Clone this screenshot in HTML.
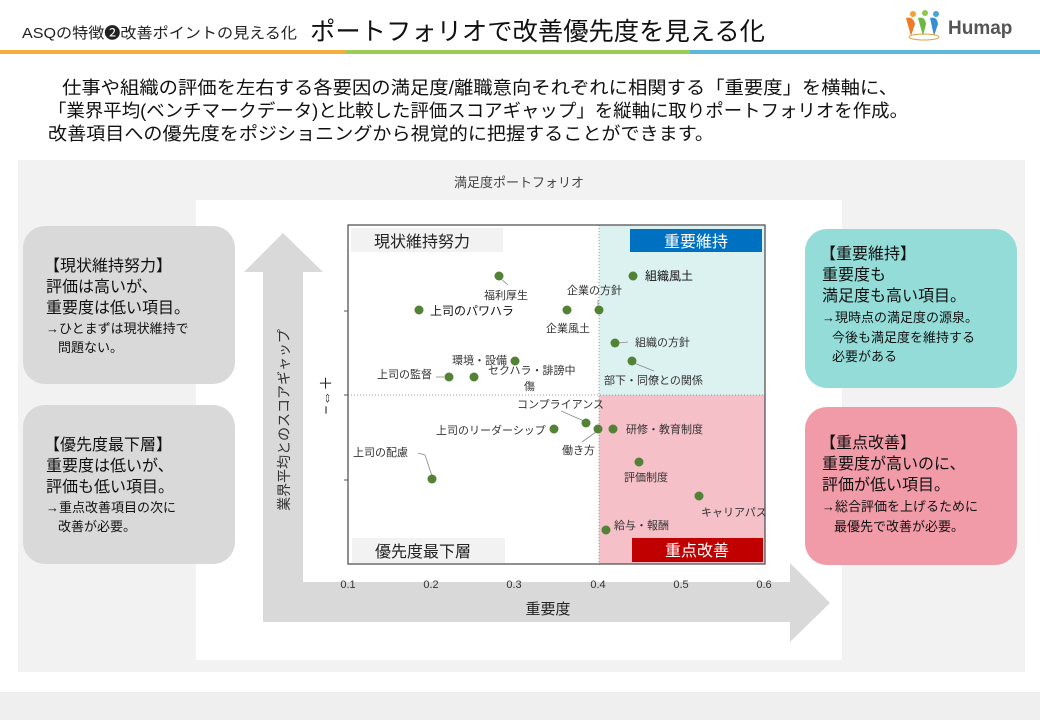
<!DOCTYPE html>
<html><head><meta charset="utf-8"><style>
body{margin:0;width:1040px;height:720px;overflow:hidden;background:#fff;font-family:"Liberation Sans","Noto Sans CJK JP",sans-serif}
svg text{font-family:"Liberation Sans","Noto Sans CJK JP",sans-serif}
</style></head><body>
<svg width="1040" height="720" viewBox="0 0 1040 720" xmlns="http://www.w3.org/2000/svg">
<rect x="0" y="0" width="1040" height="720" fill="#fff"/>
<!-- header -->
<text x="22" y="38" font-size="15" fill="#222" textLength="275" lengthAdjust="spacingAndGlyphs">ASQの特徴❷改善ポイントの見える化</text>
<text x="310" y="40" font-size="25" fill="#111" textLength="455" lengthAdjust="spacingAndGlyphs">ポートフォリオで改善優先度を見える化</text>
<rect x="0" y="50" width="345" height="4" fill="#f5ae3c"/>
<rect x="345" y="50" width="345" height="4" fill="#9ccc55"/>
<rect x="690" y="50" width="350" height="4" fill="#5bb7dc"/>
<g>
<circle cx="913" cy="14" r="3" fill="#f5a030"/><circle cx="925" cy="13" r="3" fill="#8cc84b"/><circle cx="936" cy="14" r="3" fill="#45a5d8"/>
<path d="M906 18 q7 -2 9 6 l-4 12z" fill="#f07a28"/><path d="M918 18 q7 -2 8 6 l-3 12z" fill="#6cb842"/><path d="M930 18 q7 -2 8 6 l-4 12z" fill="#3a8ed0"/>
<ellipse cx="924" cy="37" rx="15" ry="3" fill="none" stroke="#e0a040" stroke-width="1"/>
<text x="948" y="34" font-size="19" font-weight="bold" fill="#555">Humap</text>
</g>
<text x="62" y="94" font-size="18" fill="#111" textLength="836" lengthAdjust="spacingAndGlyphs">仕事や組織の評価を左右する各要因の満足度/離職意向それぞれに相関する「重要度」を横軸に、</text>
<text x="48" y="117" font-size="18" fill="#111" textLength="860" lengthAdjust="spacingAndGlyphs">「業界平均(ベンチマークデータ)と比較した評価スコアギャップ」を縦軸に取りポートフォリオを作成。</text>
<text x="48" y="140" font-size="18" fill="#111" textLength="666" lengthAdjust="spacingAndGlyphs">改善項目への優先度をポジショニングから視覚的に把握することができます。</text>
<!-- panels -->
<rect x="18" y="160" width="1007" height="512" fill="#f2f2f2"/>
<rect x="196" y="200" width="646" height="460" fill="#fff"/>
<rect x="0" y="692" width="1040" height="28" fill="#efefef"/>
<text x="519" y="187" font-size="13" fill="#444" text-anchor="middle">満足度ポートフォリオ</text>
<!-- side boxes -->
<rect x="23" y="226" width="212" height="158" rx="22" fill="#d9d9d9"/>
<text font-size="16" fill="#111"><tspan x="44" y="271">【現状維持努力】</tspan><tspan x="46" y="292">評価は高いが、</tspan><tspan x="46" y="313">重要度は低い項目。</tspan></text>
<text font-size="13" fill="#111"><tspan x="46" y="333">→ひとまずは現状維持で</tspan><tspan x="58" y="352">問題ない。</tspan></text>
<rect x="23" y="405" width="212" height="159" rx="22" fill="#d9d9d9"/>
<text font-size="16" fill="#111"><tspan x="44" y="450">【優先度最下層】</tspan><tspan x="46" y="471">重要度は低いが、</tspan><tspan x="46" y="492">評価も低い項目。</tspan></text>
<text font-size="13" fill="#111"><tspan x="46" y="512">→重点改善項目の次に</tspan><tspan x="58" y="531">改善が必要。</tspan></text>
<rect x="805" y="229" width="212" height="159" rx="22" fill="#94dcd8"/>
<text font-size="16" fill="#111"><tspan x="820" y="259">【重要維持】</tspan><tspan x="822" y="280">重要度も</tspan><tspan x="822" y="301">満足度も高い項目。</tspan></text>
<text font-size="13" fill="#111"><tspan x="822" y="322">→現時点の満足度の源泉。</tspan><tspan x="832" y="342">今後も満足度を維持する</tspan><tspan x="832" y="361">必要がある</tspan></text>
<rect x="805" y="407" width="212" height="158" rx="22" fill="#f19aa8"/>
<text font-size="16" fill="#111"><tspan x="820" y="448">【重点改善】</tspan><tspan x="822" y="469">重要度が高いのに、</tspan><tspan x="822" y="490">評価が低い項目。</tspan></text>
<text font-size="13" fill="#111"><tspan x="822" y="511">→総合評価を上げるために</tspan><tspan x="834" y="531">最優先で改善が必要。</tspan></text>
<!-- arrows -->
<polygon points="283,233 323,272 303,272 303,582 790,582 790,563 830,603 790,642 790,622 263,622 263,272 244,272" fill="#d9d9d9"/>
<text transform="translate(289,420) rotate(-90)" font-size="14" fill="#333" text-anchor="middle">業界平均とのスコアギャップ</text>
<text transform="translate(331,395) rotate(-90)" font-size="15" fill="#222" text-anchor="middle" font-family="'Noto Sans CJK JP',sans-serif">−⇔＋</text>
<text x="548" y="614" font-size="15" fill="#222" text-anchor="middle">重要度</text>
<!-- plot -->
<rect x="599" y="225" width="166" height="170" fill="#dcf2f0"/>
<rect x="599" y="395" width="166" height="169" fill="#f5c0c8"/>
<line x1="599" y1="225" x2="599" y2="564" stroke="#999" stroke-width="1" stroke-dasharray="1,2"/>
<line x1="348" y1="395" x2="765" y2="395" stroke="#999" stroke-width="1" stroke-dasharray="1,2"/>
<rect x="348" y="225" width="417" height="339" fill="none" stroke="#555" stroke-width="1.3"/>
<line x1="344" y1="311" x2="348" y2="311" stroke="#555"/><line x1="344" y1="395" x2="348" y2="395" stroke="#555"/><line x1="344" y1="480" x2="348" y2="480" stroke="#555"/>
<rect x="351" y="228" width="152" height="24" fill="#f2f2f2"/><text x="374" y="247" font-size="16" fill="#222">現状維持努力</text>
<rect x="630" y="229" width="132" height="23" fill="#0070c0"/><text x="696" y="247" font-size="16" fill="#fff" text-anchor="middle">重要維持</text>
<rect x="352" y="538" width="153" height="25" fill="#f2f2f2"/><text x="375" y="557" font-size="16" fill="#222">優先度最下層</text>
<rect x="632" y="538" width="131" height="24" fill="#c00000"/><text x="697" y="556" font-size="16" fill="#fff" text-anchor="middle">重点改善</text>
<g font-size="11" fill="#333" text-anchor="middle">
<text x="348" y="588">0.1</text><text x="431" y="588">0.2</text><text x="514" y="588">0.3</text><text x="598" y="588">0.4</text><text x="681" y="588">0.5</text><text x="764" y="588">0.6</text>
</g>
<g stroke="#888" stroke-width="0.8" fill="none">
<line x1="500" y1="278" x2="508" y2="285"/><line x1="598" y1="306" x2="598" y2="300"/>
<line x1="618" y1="343" x2="628" y2="342"/><line x1="634" y1="363" x2="654" y2="371"/>
<line x1="436" y1="377" x2="444" y2="377"/><line x1="584" y1="421" x2="561" y2="411"/>
<line x1="596" y1="432" x2="582" y2="442"/><line x1="418" y1="453" x2="425" y2="455"/><line x1="425" y1="455" x2="432" y2="476"/>
</g>
<g fill="#538135">
<circle cx="633" cy="276" r="4.5"/><circle cx="499" cy="276" r="4.5"/><circle cx="419" cy="310" r="4.5"/>
<circle cx="567" cy="310" r="4.5"/><circle cx="599" cy="310" r="4.5"/><circle cx="615" cy="343" r="4.5"/>
<circle cx="632" cy="361" r="4.5"/><circle cx="515" cy="361" r="4.5"/><circle cx="449" cy="377" r="4.5"/>
<circle cx="474" cy="377" r="4.5"/><circle cx="586" cy="423" r="4.5"/><circle cx="554" cy="429" r="4.5"/>
<circle cx="598" cy="429" r="4.5"/><circle cx="613" cy="429" r="4.5"/><circle cx="639" cy="462" r="4.5"/>
<circle cx="699" cy="496" r="4.5"/><circle cx="606" cy="530" r="4.5"/><circle cx="432" cy="479" r="4.5"/>
</g>
<g font-size="11" fill="#333">
<text x="645" y="280" font-size="12" fill="#111">組織風土</text>
<text x="484" y="299">福利厚生</text>
<text x="430" y="315" font-size="12" fill="#111">上司のパワハラ</text>
<text x="567" y="294">企業の方針</text>
<text x="546" y="332">企業風土</text>
<text x="635" y="346">組織の方針</text>
<text x="604" y="384">部下・同僚との関係</text>
<text x="452" y="364">環境・設備</text>
<text x="377" y="378">上司の監督</text>
<text x="488" y="374">セクハラ・誹謗中</text>
<text x="524" y="390">傷</text>
<text x="517" y="408">コンプライアンス</text>
<text x="436" y="434">上司のリーダーシップ</text>
<text x="562" y="454">働き方</text>
<text x="626" y="433">研修・教育制度</text>
<text x="624" y="481">評価制度</text>
<text x="701" y="516">キャリアパス</text>
<text x="614" y="529">給与・報酬</text>
<text x="353" y="456">上司の配慮</text>
</g>
</svg>
</body></html>
